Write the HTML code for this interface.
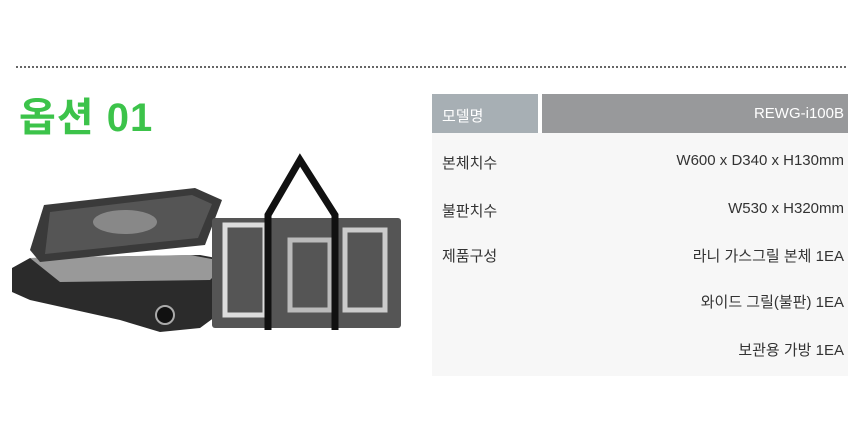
<!DOCTYPE html>
<html><head><meta charset="utf-8"><style>
body{margin:0;width:860px;height:422px;background:#fff;position:relative;overflow:hidden;font-family:"Liberation Sans","Noto Sans CJK KR",sans-serif}
.dot{position:absolute;left:16px;top:66px;width:830px;border-top:2px dotted #666}
.title{position:absolute;left:19px;top:85px;font-size:40px;font-weight:bold;color:#3cc34a;letter-spacing:1px}
.h1{position:absolute;left:432px;top:94px;width:106px;height:39px;background:#a7afb4}
.h2{position:absolute;left:542px;top:94px;width:306px;height:39px;background:#98999b}
.body{position:absolute;left:432px;top:133px;width:416px;height:243px;background:#f7f7f7}
.t{position:absolute;font-size:15px;color:#333;white-space:nowrap}
.w{color:#fff}
.r{right:16px;text-align:right}
</style></head><body>
<div class="dot"></div>
<div class="title">옵션 01</div>
<div class="h1"></div><div class="h2"></div><div class="body"></div>
<div class="t w" style="left:442px;top:105px">모델명</div>
<div class="t w r" style="top:105px">REWG-i100B</div>
<div class="t" style="left:442px;top:152px">본체치수</div>
<div class="t r" style="top:152px">W600 x D340 x H130mm</div>
<div class="t" style="left:442px;top:200px">불판치수</div>
<div class="t r" style="top:200px">W530 x H320mm</div>
<div class="t" style="left:442px;top:245px">제품구성</div>
<div class="t r" style="top:245px">라니 가스그릴 본체 1EA</div>
<div class="t r" style="top:291px">와이드 그릴(불판) 1EA</div>
<div class="t r" style="top:339px">보관용 가방 1EA</div>
<svg style="position:absolute;left:0;top:0" width="430" height="422">
<polygon points="12,268 30,258 200,255 238,262 238,300 200,328 160,332 120,320 30,300 12,292" fill="#2b2b2b"/>
<polygon points="30,258 190,255 228,262 210,280 60,282" fill="#999"/>
<polygon points="44,205 195,188 222,200 205,245 40,262 30,250" fill="#3a3a3a"/>
<polygon points="50,212 192,195 212,204 198,238 45,254" fill="#555"/>
<ellipse cx="125" cy="222" rx="32" ry="12" fill="#888"/>
<circle cx="165" cy="315" r="9" fill="#111" stroke="#aaa" stroke-width="2"/>
<rect x="212" y="218" width="189" height="110" rx="3" fill="#555"/>
<rect x="225" y="225" width="40" height="90" fill="none" stroke="#ddd" stroke-width="5"/>
<rect x="290" y="240" width="40" height="70" fill="none" stroke="#bbb" stroke-width="5"/>
<rect x="345" y="230" width="40" height="80" fill="none" stroke="#ccc" stroke-width="5"/>
<path d="M268,330 L268,215 L300,160 L335,215 L335,330" fill="none" stroke="#111" stroke-width="7"/>
</svg>
</body></html>
